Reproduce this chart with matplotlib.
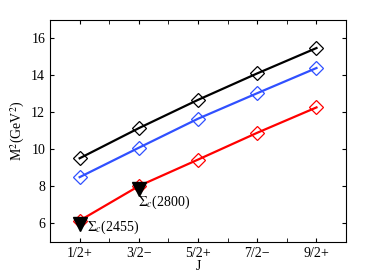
import matplotlib
matplotlib.use("Agg")
import matplotlib.pyplot as plt
from matplotlib.ticker import MultipleLocator

plt.rcParams["font.family"] = ["Liberation Serif", "DejaVu Serif"]
plt.rcParams["mathtext.fontset"] = "stix"

# Regge trajectories, M^2 (GeV^2) vs J
j_labels = ["1/2+", "3/2\u2212", "5/2+", "7/2\u2212", "9/2+"]
j_pos = [1, 2, 3, 4, 5]
black_m2 = [9.52, 11.15, 12.68, 14.11, 15.48]
blue_m2 = [8.50, 10.09, 11.66, 13.04, 14.40]
red_m2 = [6.15, 8.02, 9.45, 10.90, 12.27]

# experimental states
exp_j = [1, 2]
exp_m2 = [5.98, 7.86]
exp_names = [r"$\Sigma_c$(2455)", r"$\Sigma_c$(2800)"]

fig = plt.figure(figsize=(3.82, 2.73), dpi=100)
ax = fig.add_axes([0.131, 0.114, 0.775, 0.813])

for vals, col in [(black_m2, "black"), (blue_m2, "#3050ff"), (red_m2, "red")]:
    ax.plot(j_pos, vals, color=col, lw=1.6, marker="D", ms=7.5,
            mfc="none", mec=col, mew=0.9)

ax.plot(exp_j, exp_m2, linestyle="none", marker="v", ms=10, color="black")
ax.text(1.12, 5.78, exp_names[0], fontsize=10, va="center", ha="left")
ax.text(1.98, 7.12, exp_names[1], fontsize=10, va="center", ha="left")

ax.set_xlim(0.5, 5.5)
ax.set_ylim(5, 17)
ax.set_xticks(j_pos)
ax.set_xticklabels(j_labels)
ax.xaxis.set_minor_locator(MultipleLocator(0.5))
ax.set_yticks([6, 8, 10, 12, 14, 16])
ax.tick_params(which="both", direction="in", top=True, right=True, labelsize=10)
ax.tick_params(which="major", length=3)
ax.tick_params(which="minor", length=3)
ax.set_xlabel("J", fontsize=10, labelpad=0)
ax.set_ylabel(r"M$^2$(GeV$^2$)", fontsize=10, labelpad=3)

plt.savefig("out.png", dpi=100)
